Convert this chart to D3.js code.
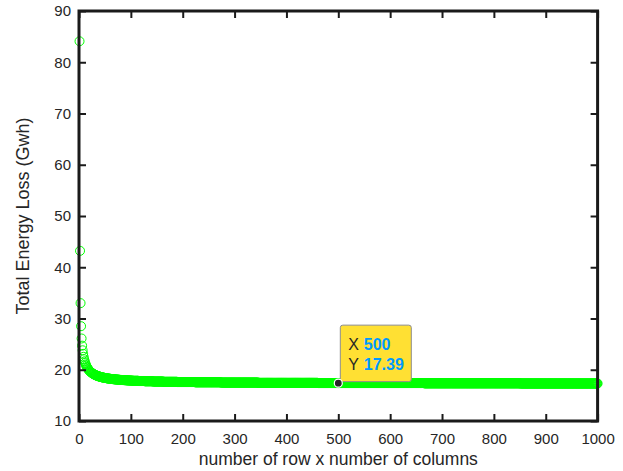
<!DOCTYPE html>
<html>
<head>
<meta charset="utf-8">
<script src="https://cdn.jsdelivr.net/npm/d3@7"></script>
<style>
  body { margin: 0; background: #fff; }
  svg { display: block; }
  text { font-family: "Liberation Sans", Arial, Helvetica, sans-serif; }
</style>
</head>
<body>
<svg id="chart" width="623" height="471"></svg>
<script>
// Total energy loss (GWh) for each grid size 1..1000 (rows x columns)
const energyLoss = [
  84.1, 43.2, 33.0, 28.5, 26.1, 24.7, 23.8, 23.1, 22.53, 22.05,
  21.65, 21.32, 21.03, 20.79, 20.57, 20.39, 20.22, 20.07, 19.94, 19.82,
  19.71, 19.61, 19.52, 19.44, 19.36, 19.29, 19.22, 19.16, 19.10, 19.05,
  19.00, 18.95, 18.90, 18.86, 18.82, 18.78, 18.75, 18.71, 18.68, 18.65,
  18.62, 18.59, 18.56, 18.54, 18.51, 18.49, 18.47, 18.45, 18.42, 18.40,
  18.39, 18.37, 18.35, 18.33, 18.31, 18.30, 18.28, 18.27, 18.25, 18.24,
  18.22, 18.21, 18.20, 18.18, 18.17, 18.16, 18.15, 18.14, 18.13, 18.12,
  18.11, 18.10, 18.09, 18.08, 18.07, 18.06, 18.05, 18.04, 18.03, 18.02,
  18.01, 18.01, 18.00, 17.99, 17.98, 17.98, 17.97, 17.96, 17.96, 17.95,
  17.94, 17.94, 17.93, 17.92, 17.92, 17.91, 17.91, 17.90, 17.90, 17.89,
  17.88, 17.88, 17.88, 17.85, 17.85, 17.85, 17.85, 17.85, 17.85, 17.85,
  17.85, 17.85, 17.85, 17.85, 17.80, 17.80, 17.80, 17.80, 17.80, 17.80,
  17.80, 17.80, 17.80, 17.80, 17.80, 17.80, 17.75, 17.75, 17.75, 17.75,
  17.75, 17.75, 17.75, 17.75, 17.75, 17.75, 17.75, 17.75, 17.75, 17.75,
  17.75, 17.75, 17.70, 17.70, 17.70, 17.70, 17.70, 17.70, 17.70, 17.70,
  17.70, 17.70, 17.70, 17.70, 17.70, 17.70, 17.70, 17.70, 17.70, 17.70,
  17.70, 17.70, 17.65, 17.65, 17.65, 17.65, 17.65, 17.65, 17.65, 17.65,
  17.65, 17.65, 17.65, 17.65, 17.65, 17.65, 17.65, 17.65, 17.65, 17.65,
  17.65, 17.65, 17.65, 17.65, 17.65, 17.65, 17.65, 17.65, 17.65, 17.60,
  17.60, 17.60, 17.60, 17.60, 17.60, 17.60, 17.60, 17.60, 17.60, 17.60,
  17.60, 17.60, 17.60, 17.60, 17.60, 17.60, 17.60, 17.60, 17.60, 17.60,
  17.60, 17.60, 17.60, 17.60, 17.60, 17.60, 17.60, 17.60, 17.60, 17.60,
  17.60, 17.60, 17.60, 17.55, 17.55, 17.55, 17.55, 17.55, 17.55, 17.55,
  17.55, 17.55, 17.55, 17.55, 17.55, 17.55, 17.55, 17.55, 17.55, 17.55,
  17.55, 17.55, 17.55, 17.55, 17.55, 17.55, 17.55, 17.55, 17.55, 17.55,
  17.55, 17.55, 17.55, 17.55, 17.55, 17.55, 17.55, 17.55, 17.55, 17.55,
  17.55, 17.55, 17.55, 17.55, 17.55, 17.55, 17.55, 17.55, 17.55, 17.55,
  17.55, 17.55, 17.55, 17.50, 17.50, 17.50, 17.50, 17.50, 17.50, 17.50,
  17.50, 17.50, 17.50, 17.50, 17.50, 17.50, 17.50, 17.50, 17.50, 17.50,
  17.50, 17.50, 17.50, 17.50, 17.50, 17.50, 17.50, 17.50, 17.50, 17.50,
  17.50, 17.50, 17.50, 17.50, 17.50, 17.50, 17.50, 17.50, 17.50, 17.50,
  17.50, 17.50, 17.50, 17.50, 17.50, 17.50, 17.50, 17.50, 17.50, 17.50,
  17.50, 17.50, 17.50, 17.50, 17.50, 17.50, 17.50, 17.50, 17.50, 17.50,
  17.50, 17.50, 17.50, 17.50, 17.50, 17.50, 17.50, 17.50, 17.50, 17.50,
  17.50, 17.50, 17.50, 17.50, 17.50, 17.45, 17.45, 17.45, 17.45, 17.45,
  17.45, 17.45, 17.45, 17.45, 17.45, 17.45, 17.45, 17.45, 17.45, 17.45,
  17.45, 17.45, 17.45, 17.45, 17.45, 17.45, 17.45, 17.45, 17.45, 17.45,
  17.45, 17.45, 17.45, 17.45, 17.45, 17.45, 17.45, 17.45, 17.45, 17.45,
  17.45, 17.45, 17.45, 17.45, 17.45, 17.45, 17.45, 17.45, 17.45, 17.45,
  17.45, 17.45, 17.45, 17.45, 17.45, 17.45, 17.45, 17.45, 17.45, 17.45,
  17.45, 17.45, 17.45, 17.45, 17.45, 17.45, 17.45, 17.45, 17.45, 17.45,
  17.45, 17.45, 17.45, 17.45, 17.45, 17.45, 17.45, 17.45, 17.45, 17.45,
  17.45, 17.45, 17.45, 17.45, 17.45, 17.45, 17.45, 17.45, 17.45, 17.45,
  17.45, 17.45, 17.45, 17.45, 17.45, 17.45, 17.45, 17.45, 17.45, 17.45,
  17.45, 17.45, 17.45, 17.45, 17.45, 17.45, 17.45, 17.45, 17.45, 17.45,
  17.45, 17.45, 17.45, 17.45, 17.45, 17.45, 17.45, 17.45, 17.45, 17.45,
  17.40, 17.40, 17.40, 17.40, 17.40, 17.40, 17.40, 17.40, 17.40, 17.40,
  17.40, 17.40, 17.40, 17.40, 17.40, 17.40, 17.40, 17.40, 17.40, 17.40,
  17.40, 17.40, 17.40, 17.40, 17.40, 17.40, 17.40, 17.40, 17.40, 17.40,
  17.40, 17.40, 17.40, 17.40, 17.40, 17.40, 17.40, 17.40, 17.40, 17.39,
  17.40, 17.40, 17.40, 17.40, 17.40, 17.40, 17.40, 17.40, 17.40, 17.40,
  17.40, 17.40, 17.40, 17.40, 17.40, 17.40, 17.40, 17.40, 17.40, 17.40,
  17.40, 17.40, 17.40, 17.40, 17.40, 17.40, 17.40, 17.40, 17.40, 17.40,
  17.40, 17.40, 17.40, 17.40, 17.40, 17.40, 17.40, 17.40, 17.40, 17.40,
  17.40, 17.40, 17.40, 17.40, 17.40, 17.40, 17.40, 17.40, 17.40, 17.40,
  17.40, 17.40, 17.40, 17.40, 17.40, 17.40, 17.40, 17.40, 17.40, 17.40,
  17.40, 17.40, 17.40, 17.40, 17.40, 17.40, 17.40, 17.40, 17.40, 17.40,
  17.40, 17.40, 17.40, 17.40, 17.40, 17.40, 17.40, 17.40, 17.40, 17.40,
  17.40, 17.40, 17.40, 17.40, 17.40, 17.40, 17.40, 17.40, 17.40, 17.40,
  17.40, 17.40, 17.40, 17.40, 17.40, 17.40, 17.40, 17.40, 17.40, 17.40,
  17.40, 17.40, 17.40, 17.40, 17.40, 17.40, 17.40, 17.40, 17.40, 17.40,
  17.40, 17.40, 17.40, 17.40, 17.40, 17.40, 17.40, 17.40, 17.40, 17.40,
  17.40, 17.40, 17.40, 17.40, 17.40, 17.40, 17.40, 17.40, 17.40, 17.40,
  17.40, 17.40, 17.40, 17.40, 17.40, 17.40, 17.40, 17.40, 17.40, 17.40,
  17.40, 17.40, 17.40, 17.40, 17.40, 17.40, 17.40, 17.40, 17.40, 17.40,
  17.40, 17.40, 17.40, 17.40, 17.40, 17.40, 17.40, 17.40, 17.40, 17.40,
  17.40, 17.40, 17.40, 17.40, 17.40, 17.35, 17.35, 17.35, 17.35, 17.35,
  17.35, 17.35, 17.35, 17.35, 17.35, 17.35, 17.35, 17.35, 17.35, 17.35,
  17.35, 17.35, 17.35, 17.35, 17.35, 17.35, 17.35, 17.35, 17.35, 17.35,
  17.35, 17.35, 17.35, 17.35, 17.35, 17.35, 17.35, 17.35, 17.35, 17.35,
  17.35, 17.35, 17.35, 17.35, 17.35, 17.35, 17.35, 17.35, 17.35, 17.35,
  17.35, 17.35, 17.35, 17.35, 17.35, 17.35, 17.35, 17.35, 17.35, 17.35,
  17.35, 17.35, 17.35, 17.35, 17.35, 17.35, 17.35, 17.35, 17.35, 17.35,
  17.35, 17.35, 17.35, 17.35, 17.35, 17.35, 17.35, 17.35, 17.35, 17.35,
  17.35, 17.35, 17.35, 17.35, 17.35, 17.35, 17.35, 17.35, 17.35, 17.35,
  17.35, 17.35, 17.35, 17.35, 17.35, 17.35, 17.35, 17.35, 17.35, 17.35,
  17.35, 17.35, 17.35, 17.35, 17.35, 17.35, 17.35, 17.35, 17.35, 17.35,
  17.35, 17.35, 17.35, 17.35, 17.35, 17.35, 17.35, 17.35, 17.35, 17.35,
  17.35, 17.35, 17.35, 17.35, 17.35, 17.35, 17.35, 17.35, 17.35, 17.35,
  17.35, 17.35, 17.35, 17.35, 17.35, 17.35, 17.35, 17.35, 17.35, 17.35,
  17.35, 17.35, 17.35, 17.35, 17.35, 17.35, 17.35, 17.35, 17.35, 17.35,
  17.35, 17.35, 17.35, 17.35, 17.35, 17.35, 17.35, 17.35, 17.35, 17.35,
  17.35, 17.35, 17.35, 17.35, 17.35, 17.35, 17.35, 17.35, 17.35, 17.35,
  17.35, 17.35, 17.35, 17.35, 17.35, 17.35, 17.35, 17.35, 17.35, 17.35,
  17.35, 17.35, 17.35, 17.35, 17.35, 17.35, 17.35, 17.35, 17.35, 17.35,
  17.32, 17.32, 17.32, 17.32, 17.32, 17.32, 17.32, 17.32, 17.32, 17.32,
  17.32, 17.32, 17.32, 17.32, 17.32, 17.32, 17.32, 17.32, 17.32, 17.32,
  17.32, 17.32, 17.32, 17.32, 17.32, 17.32, 17.32, 17.32, 17.32, 17.32,
  17.32, 17.32, 17.32, 17.32, 17.32, 17.32, 17.32, 17.32, 17.32, 17.32,
  17.32, 17.32, 17.32, 17.32, 17.32, 17.32, 17.32, 17.32, 17.32, 17.32,
  17.32, 17.32, 17.32, 17.32, 17.32, 17.32, 17.32, 17.32, 17.32, 17.32,
  17.32, 17.32, 17.32, 17.32, 17.32, 17.32, 17.32, 17.32, 17.32, 17.32,
  17.32, 17.32, 17.32, 17.32, 17.32, 17.32, 17.32, 17.32, 17.32, 17.32,
  17.32, 17.32, 17.32, 17.32, 17.32, 17.32, 17.32, 17.32, 17.32, 17.32,
  17.32, 17.32, 17.32, 17.32, 17.32, 17.32, 17.32, 17.32, 17.32, 17.32,
  17.32, 17.32, 17.32, 17.32, 17.32, 17.32, 17.32, 17.32, 17.32, 17.32,
  17.32, 17.32, 17.32, 17.32, 17.32, 17.32, 17.32, 17.32, 17.32, 17.32,
  17.32, 17.32, 17.32, 17.32, 17.32, 17.32, 17.32, 17.32, 17.32, 17.32,
  17.32, 17.32, 17.32, 17.32, 17.32, 17.32, 17.32, 17.32, 17.32, 17.32,
  17.32, 17.32, 17.32, 17.32, 17.32, 17.32, 17.32, 17.32, 17.32, 17.32
];

const xTicks = [0, 100, 200, 300, 400, 500, 600, 700, 800, 900, 1000];
const yTicks = [10, 20, 30, 40, 50, 60, 70, 80, 90];
const xDomain = [0, 1000];
const yDomain = [10, 90];

// Data tip shown on the curve
const tipX = 500;
const tipY = 17.39;

const xTitle = "number of row x number of columns";
const yTitle = "Total Energy Loss (Gwh)";

const svg = d3.select("#chart");
svg.append("rect").attr("width", 623).attr("height", 471).attr("fill", "#fff");

const plot = { left: 79, right: 597.6, top: 11, bottom: 421 };
const x = d3.scaleLinear().domain(xDomain).range([plot.left, plot.right]);
const y = d3.scaleLinear().domain(yDomain).range([plot.bottom, plot.top]);

const axisColor = "#262626";
const plainNumber = d3.format("d");

// Markers: one open green circle per grid size
const points = energyLoss.map((v, i) => ({ n: i + 1, v }));
svg.append("g")
  .selectAll("circle")
  .data(points)
  .join("circle")
  .attr("cx", d => x(d.n))
  .attr("cy", d => y(d.v))
  .attr("r", 4.5)
  .attr("fill", "none")
  .attr("stroke", "#00ff00")
  .attr("stroke-width", 1);

// Axes with inward ticks on all four sides
function styleAxis(g) {
  g.select(".domain").remove();
  g.selectAll(".tick line").attr("stroke", "#1a1a1a").attr("stroke-width", 2);
  g.selectAll(".tick text").attr("fill", axisColor).style("font-size", "15px");
}

svg.append("g")
  .attr("transform", `translate(0,${plot.bottom})`)
  .call(d3.axisBottom(x).tickValues(xTicks).tickFormat(plainNumber)
    .tickSizeInner(-7).tickSizeOuter(0).tickPadding(12))
  .call(styleAxis);

svg.append("g")
  .attr("transform", `translate(0,${plot.top})`)
  .call(d3.axisTop(x).tickValues(xTicks).tickSizeInner(-7).tickSizeOuter(0).tickFormat(""))
  .call(styleAxis);

svg.append("g")
  .attr("transform", `translate(${plot.left},0)`)
  .call(d3.axisLeft(y).tickValues(yTicks).tickFormat(plainNumber)
    .tickSizeInner(-7).tickSizeOuter(0).tickPadding(8))
  .call(styleAxis);

svg.append("g")
  .attr("transform", `translate(${plot.right},0)`)
  .call(d3.axisRight(y).tickValues(yTicks).tickSizeInner(-7).tickSizeOuter(0).tickFormat(""))
  .call(styleAxis);

// Box outline
svg.append("rect")
  .attr("x", plot.left)
  .attr("y", plot.top)
  .attr("width", plot.right - plot.left)
  .attr("height", plot.bottom - plot.top)
  .attr("fill", "none")
  .attr("stroke", "#1a1a1a")
  .attr("stroke-width", 3);

// Axis titles
svg.append("text")
  .attr("x", (plot.left + plot.right) / 2)
  .attr("y", 465)
  .attr("text-anchor", "middle")
  .attr("fill", axisColor)
  .style("font-size", "17.5px")
  .text(xTitle);

svg.append("text")
  .attr("transform", `translate(29,${(plot.top + plot.bottom) / 2}) rotate(-90)`)
  .attr("text-anchor", "middle")
  .attr("fill", axisColor)
  .style("font-size", "18px")
  .text(yTitle);

// Data tip
const tx = x(tipX), ty = y(tipY);
const tip = svg.append("g");
tip.append("rect")
  .attr("x", tx + 2)
  .attr("y", ty - 58)
  .attr("width", 71)
  .attr("height", 56.5)
  .attr("rx", 2.5)
  .attr("fill", "#ffe033")
  .attr("stroke", "#8c8c8c")
  .attr("stroke-width", 1);

const tipRows = [
  { label: "X", value: String(tipX), dy: -33.5 },
  { label: "Y", value: tipY.toFixed(2), dy: -13.5 }
];
tipRows.forEach(r => {
  tip.append("text")
    .attr("x", tx + 10)
    .attr("y", ty + r.dy)
    .attr("fill", axisColor)
    .style("font-size", "16px")
    .text(r.label);
  tip.append("text")
    .attr("x", tx + 25.5)
    .attr("y", ty + r.dy)
    .attr("fill", "#0099ff")
    .style("font-size", "16px")
    .style("font-weight", "bold")
    .text(r.value);
});

tip.append("circle")
  .attr("cx", tx)
  .attr("cy", ty)
  .attr("r", 4)
  .attr("fill", axisColor)
  .attr("stroke", "#fff")
  .attr("stroke-width", 1.2);
</script>
</body>
</html>
